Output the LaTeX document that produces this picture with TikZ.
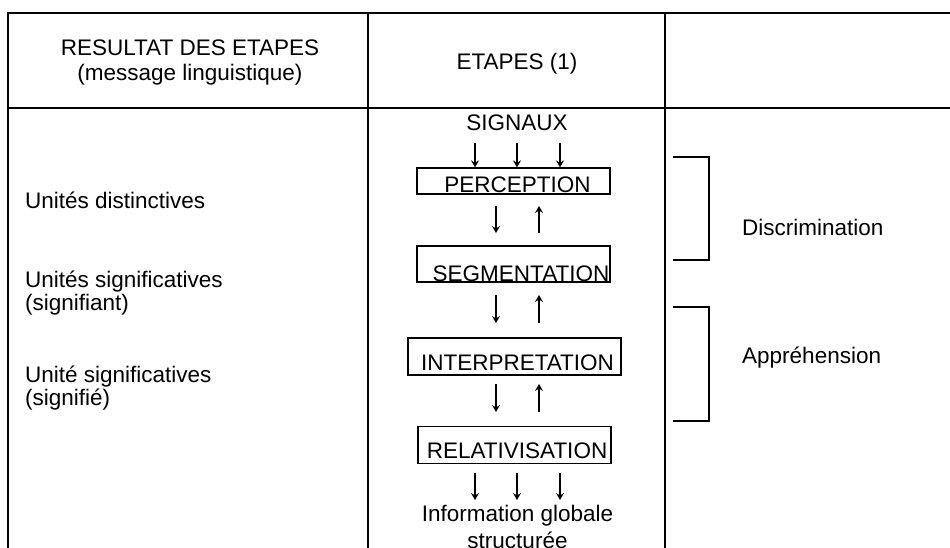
\documentclass[tikz,border=0pt]{standalone}
\usepackage{fontspec}
\setmainfont{Liberation Sans}
\usetikzlibrary{arrows.meta}
\tikzset{
  tline/.style={line width=2pt},
  stepbox/.style={draw, line width=1.3pt, rectangle, inner sep=0pt},
  txt/.style={font=\fontsize{22.5}{25}\selectfont, inner sep=0pt, anchor=base},
  ltxt/.style={font=\fontsize{22.5}{25}\selectfont, inner sep=0pt, anchor=base west},
  arr/.style={line width=1.2pt, -{Stealth[length=7pt,width=8pt,inset=2.5pt]}},
  brk/.style={line width=1.3pt}
}
\begin{document}
\begin{tikzpicture}[x=1pt,y=-1pt]
\useasboundingbox (0,0) rectangle (950,547);
\clip (0,0) rectangle (950,547);
% table
\draw[tline] (8,13) -- (960,13);
\draw[tline] (8,108) -- (960,108);
\draw[tline] (8,12) -- (8,560);
\draw[tline] (368,12) -- (368,560);
\draw[tline] (665,12) -- (665,560);
% header
\node[txt] (h1a) at (190,55) {RESULTAT DES ETAPES};
\node[txt] (h1b) at (190,80) {(message linguistique)};
\node[txt] (h2) at (517,69) {ETAPES (1)};
% left column
\node[ltxt] (u1) at (25,208) {Unités distinctives};
\node[ltxt] (u2a) at (25,287) {Unités significatives};
\node[ltxt] (u2b) at (25,310) {(signifiant)};
\node[ltxt] (u3a) at (25,382) {Unité significatives};
\node[ltxt] (u3b) at (25,405) {(signifié)};
% middle column
\node[txt] (sig) at (517,130) {SIGNAUX};
\node[stepbox, minimum width=193pt, minimum height=26pt] (perc) at (513.5,181) {};
\node[txt] (perct) at (517.5,192.5) {PERCEPTION};
\node[stepbox, minimum width=193pt, minimum height=36pt] (segm) at (513.5,264) {};
\node[txt] (segmt) at (521,281.5) {SEGMENTATION};
\node[stepbox, minimum width=213pt, minimum height=37pt] (interp) at (514.5,356.5) {};
\node[txt] (interpt) at (517.5,370) {INTERPRETATION};
\node[stepbox, minimum width=193pt, minimum height=36.5pt] (relat) at (514.5,445) {};
\node[txt] (relatt) at (517,458.3) {RELATIVISATION};
\node[txt] (info1) at (517.5,521.7) {Information globale};
\node[txt] (info2) at (517.5,548) {structurée};
% arrows from signaux
\coordinate (s1) at (475,143);
\coordinate (s2) at (517,143);
\coordinate (s3) at (560,143);
\draw[arr] (s1) -- (s1 |- perc.north);
\draw[arr] (s2) -- (s2 |- perc.north);
\draw[arr] (s3) -- (s3 |- perc.north);
% arrows between steps
\coordinate (dA) at (496,206);
\coordinate (uA) at (539,206);
\draw[arr] (dA) -- (496,233);
\draw[arr] (539,233) -- (uA);
\draw[arr] (496,295) -- (496,323);
\draw[arr] (539,323) -- (539,295);
\draw[arr] (496,384) -- (496,412);
\draw[arr] (539,412) -- (539,384);
% bottom arrows
\coordinate (b1) at (475,500);
\coordinate (b2) at (517,500);
\coordinate (b3) at (560,500);
\draw[arr] (b1 |- 0,473) -- (b1);
\draw[arr] (b2 |- 0,473) -- (b2);
\draw[arr] (b3 |- 0,473) -- (b3);
% right column
\draw[brk] (673,157) -- (709,157) -- (709,260) -- (673,260);
\draw[brk] (673,307) -- (709,307) -- (709,421) -- (673,421);
\node[ltxt] (disc) at (742,235) {Discrimination};
\node[ltxt] (appr) at (742,363) {Appréhension};
\end{tikzpicture}
\end{document}
